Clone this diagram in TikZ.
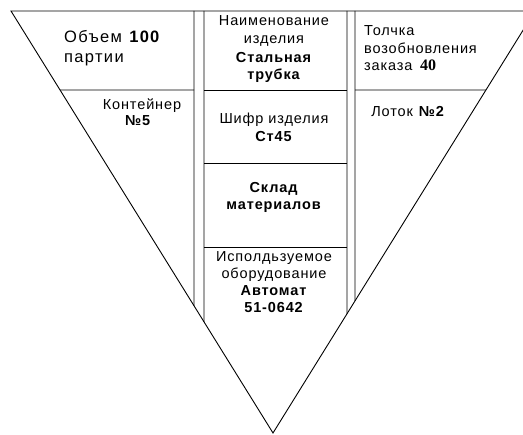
\documentclass[tikz,border=0pt]{standalone}
\usepackage{fontspec}
\setmainfont{Liberation Sans}[LetterSpace=6]
\newfontfamily\serifbold{Liberation Serif}[UprightFont={* Bold}]
\begin{document}
\begin{tikzpicture}[x=1pt,y=-1pt,
  edge/.style={draw=black,line width=0.9pt},
  txt/.style={inner sep=0pt,font=\fontsize{14.5}{17}\selectfont},
  big/.style={inner sep=0pt,font=\fontsize{16.5}{20}\selectfont\addfontfeatures{LetterSpace=8}}]
\useasboundingbox (0,0) rectangle (523,435);
\clip (0,0) rectangle (523,435);
\coordinate (TL) at (11,11);
\coordinate (TR) at (535,11);
\coordinate (A) at (273,433);
\draw[edge] (TL) -- (TR) -- (A) -- cycle;
% vertical double lines
\coordinate (v1t) at (194,11);
\coordinate (v2t) at (204,11);
\coordinate (v3t) at (347,11);
\coordinate (v4t) at (355,11);
\coordinate (v1b) at (intersection of TL--A and 194,0--194,500);
\coordinate (v2b) at (intersection of TL--A and 204,0--204,500);
\coordinate (v3b) at (intersection of TR--A and 347,0--347,500);
\coordinate (v4b) at (intersection of TR--A and 355,0--355,500);
\draw[edge] (v1t) -- (v1b);
\draw[edge] (v2t) -- (v2b);
\draw[edge] (v3t) -- (v3b);
\draw[edge] (v4t) -- (v4b);
% horizontal lines
\coordinate (hl) at (intersection of TL--A and 0,90--600,90);
\coordinate (hr) at (intersection of TR--A and 0,90--600,90);
\draw[edge] (hl) -- (194,90);
\draw[edge] (355,90) -- (hr);
\draw[edge] (204,90) -- (347,90);
\draw[edge] (204,163) -- (347,163);
\draw[edge] (204,247) -- (347,247);
% texts left
\node[big,anchor=base west] (t1) at (64,43) {Объем \textbf{100}};
\node[big,anchor=base west] (t2) at (64,63) {партии};
\node[txt,anchor=base] (t3) at (142,110) {Контейнер};
\node[txt,anchor=base] (t4) at (138,126) {\textbf{№5}};
% middle
\node[txt,anchor=base] (m1) at (274,26) {Наименование};
\node[txt,anchor=base] (m2) at (274,44) {изделия};
\node[txt,anchor=base] (m3) at (274,63) {\textbf{Стальная}};
\node[txt,anchor=base] (m4) at (274,80) {\textbf{трубка}};
\node[txt,anchor=base] (m5) at (274,124) {Шифр изделия};
\node[txt,anchor=base] (m6) at (274,142) {\textbf{Ст45}};
\node[txt,anchor=base] (m7) at (274,193) {\textbf{Склад}};
\node[txt,anchor=base] (m8) at (274,210) {\textbf{материалов}};
\node[txt,anchor=base] (m9) at (274,262) {Исполдьзуемое};
\node[txt,anchor=base] (m10) at (274,279) {оборудование};
\node[txt,anchor=base] (m11) at (274,296) {\textbf{Автомат}};
\node[txt,anchor=base] (m12) at (274,313) {\textbf{51-0642}};
% right
\node[txt,anchor=base west] (r1) at (364,36) {Толчка};
\node[txt,anchor=base west] (r2) at (364,54) {возобновления};
\node[txt,anchor=base west] (r3) at (364,71) {заказа};
\node[anchor=base west,inner sep=0pt,font=\serifbold\fontsize{16}{17}\selectfont] (r4) at (420,71) {40};
\node[txt,anchor=base] (r5) at (408,117) {Лоток \textbf{№2}};
\end{tikzpicture}
\end{document}
